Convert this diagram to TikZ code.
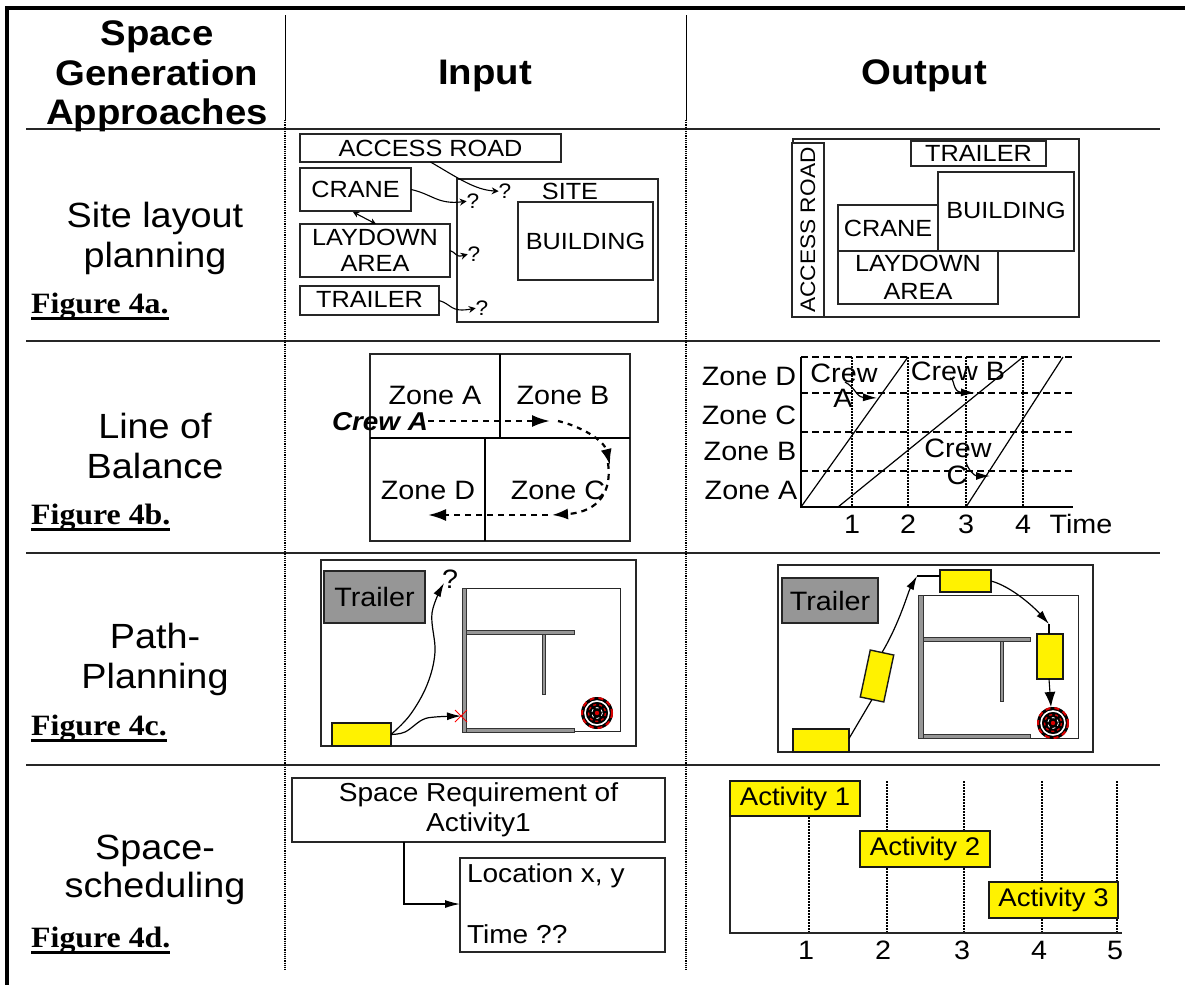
\documentclass[tikz,border=0pt]{standalone}
\usepackage{fontspec}
\setmainfont[FakeStretch=1.08]{Liberation Sans}
\newfontfamily\figfont[FakeStretch=1.08]{Liberation Serif}
\usetikzlibrary{arrows.meta}
\definecolor{trailergray}{RGB}{150,150,150}
\newcommand{\fsz}[2]{\fontsize{#1}{#2}\selectfont}
% text label: [opts]{name}{x}{y of cap centre (last line)}{size}{text}
\newcommand{\lab}[6][]{\node[inner sep=0pt,outer sep=0pt,anchor=base,align=center,font=\fsz{#5}{40},#1] (#2) at (#3,{#4+.358*#5}) {#6};}
% box: [opts]{name}{x1}{y1}{x2}{y2}{text}
\newcommand{\bx}[7][]{\node[boxn,minimum width={(#5-#3)*1pt},minimum height={(#6-#4)*1pt},#1] (#2) at ({(#3+#5)/2},{(#4+#6)/2}) {#7};}
\newcommand{\figlabel}[4]{\node[inner sep=0pt,anchor=base west,font=\figfont\bfseries\fsz{29.5}{32}] (#1) at (#2,#3) {\setbox0\hbox{#4}\rlap{\rule[-7pt]{\wd0}{3pt}}\box0};}
\tikzset{
  boxn/.style={draw=black!85,line width=1.4pt,fill=white,inner sep=0pt,outer sep=0pt,align=center,font=\fsz{23.4}{26}},
  ybox/.style={boxn,fill=yellow,draw=black!90},
  graybox/.style={boxn,fill=trailergray,font=\fsz{26.6}{30}},
  rule line/.style={draw=black!85,line width=1.6pt},
  col solid/.style={draw=black,line width=1pt},
  col dot/.style={draw=black,line width=1.2pt,dash pattern=on 1.2pt off 1pt},
  grid dash/.style={draw=black,line width=1.1pt,dash pattern=on 7pt off 4pt},
  grid dot/.style={draw=black,line width=1.1pt,dash pattern=on 2pt off 1pt},
  line a/.style={draw=black,line width=1.2pt},
  arr/.style={draw=black,line width=1.1pt,-{Stealth[length=7pt,width=7pt]}},
  midarr/.style={draw=black,line width=1.2pt,-{Latex[length=14pt,width=8pt]}},
  bigarr/.style={draw=black,line width=2.4pt,dash pattern=on 6pt off 5pt,-{Latex[length=18pt,width=12pt]}},
  wall/.style={fill=trailergray,draw=black!80,line width=.7pt},
}
\newcommand{\targetmark}[2]{%
  \fill[black] (#1,#2) circle (16);
  \draw[red!85!black,line width=2pt,dash pattern=on 5pt off 4pt] (#1,#2) circle (15);
  \draw[white,line width=1.6pt] (#1,#2) circle (12);
  \draw[red!85!black,line width=1.4pt,dash pattern=on 3pt off 3pt] (#1,#2) circle (8.5);
  \draw[white,line width=.8pt,dash pattern=on 3pt off 3pt] (#1,#2) circle (5.5);
  \fill[red!85!black] (#1,#2) circle (2.2);
}
\begin{document}
\begin{tikzpicture}[x=1pt,y=-1pt]
\useasboundingbox (0,0) rectangle (1185,985);
\fill[white] (0,0) rectangle (1185,985);
% ---- frame and table rules
\fill[black] (5,6) rectangle (1185,10);
\fill[black] (5,6) rectangle (9,985);
\draw[rule line] (26,129) -- (1160,129);
\draw[rule line] (26,341) -- (1160,341);
\draw[rule line] (26,553) -- (1160,553);
\draw[rule line] (26,765) -- (1160,765);
\draw[col solid] (285,15) -- (285,120);
\draw[col dot] (285,120) -- (285,970);
\draw[col solid] (686,15) -- (686,120);
\draw[col dot] (686,120) -- (686,970);
% ---- headers
\lab[font=\bfseries\fsz{35.5}{39.5}]{hspace}{157}{112}{35.5}{Space\\Generation\\Approaches}
\lab[font=\bfseries\fsz{35.5}{40}]{hinput}{485}{72}{35.5}{Input}
\lab[font=\bfseries\fsz{35.5}{40}]{houtput}{924}{72}{35.5}{Output}
% ---- left column
\lab[font=\fsz{35}{40}]{lsite}{155}{255}{35}{Site layout\\planning}
\lab[font=\fsz{35}{40}]{lline}{155}{466}{35}{Line of\\Balance}
\lab[font=\fsz{35}{40}]{lpath}{155}{676}{35}{Path-\\Planning}
\lab[font=\fsz{35}{38}]{lsched}{155}{885}{35}{Space-\\scheduling}
\figlabel{figa}{31}{313}{Figure 4a.}
\figlabel{figb}{31}{524}{Figure 4b.}
\figlabel{figc}{31}{735}{Figure 4c.}
\figlabel{figd}{31}{947}{Figure 4d.}
% ---- site layout input
\bx{road}{300}{134}{561}{162}{ACCESS ROAD}
\bx{crane}{300}{168}{411}{211}{CRANE}
\bx{lay}{300}{224}{450}{277}{LAYDOWN\\AREA}
\bx{trailer}{300}{286}{439}{315}{\raisebox{2pt}{TRAILER}}
\bx{site}{457}{179}{658}{322}{}
\bx{bldg}{518}{202}{653}{280}{BUILDING}
\lab{sitelabel}{570}{191}{23.4}{SITE}
\lab{qa}{505}{191}{21}{?}
\lab{qb}{473}{201}{21}{?}
\lab{qc}{474}{254}{21}{?}
\lab{qd}{482}{308}{21}{?}
\draw[arr] (road.south) .. controls (458,178) and (475,190) .. (qa.west);
\draw[arr] (crane.east) .. controls (432,194) and (438,205) .. (qb.west);
\draw[{Stealth[length=6pt,width=6pt]}-{Stealth[length=6pt,width=6pt]},line width=1.1pt] (353,212) -- (376,224);
\draw[arr] (lay.east) .. controls (456,252) and (455,258) .. (qc.west);
\draw[arr] (trailer.east) .. controls (452,304) and (450,313) .. (qd.west);
% ---- site layout output
\bx{osite}{793}{139}{1079}{317}{}
\bx[rotate=90,minimum width=174pt,minimum height=32pt,font=\fsz{21}{26}]{oroad}{808}{230}{808}{230}{ACCESS ROAD}
\bx{otrailer}{911}{141}{1046}{166}{TRAILER}
\bx{ocrane}{838}{205}{938}{251}{CRANE}
\bx{obldg}{938}{172}{1074}{251}{\raisebox{3pt}{BUILDING}}
\bx[font=\fsz{23.4}{28}]{olay}{838}{251}{998}{304}{LAYDOWN\\AREA}
% ---- line of balance input
\bx{zonebox}{370}{354}{630}{541}{}
\draw[line a] (370,438) -- (630,438);
\draw[line a] (500,354) -- (500,438);
\draw[line a] (485,438) -- (485,541);
\lab{zia}{435}{395}{26.6}{Zone A}
\lab{zib}{563}{395}{26.6}{Zone B}
\lab{zid}{428}{490}{26.6}{Zone D}
\lab{zic}{558}{490}{26.6}{Zone C}
\lab[font=\bfseries\itshape\fsz{25.8}{30},anchor=base west]{crewa}{332}{421}{25.8}{Crew A}
\coordinate (cm1) at (550,421);
\coordinate (cm2) at (558,421);
\coordinate (cm3) at (610,465);
\coordinate (cm4) at (608,463);
\coordinate (cm5) at (552,515);
\coordinate (cm6) at (428,515);
\draw[bigarr] (crewa.east |- cm1) -- (cm1);
\draw[draw=black,line width=2.2pt,dash pattern=on 5pt off 5pt,-{Latex[length=16pt,width=11pt]}] (cm2) .. controls (580,426) and (604,440) .. (cm3);
\draw[draw=black,line width=2.2pt,dash pattern=on 6pt off 5pt,-{Latex[length=16pt,width=11pt]}] (cm4) .. controls (612,490) and (600,512) .. (cm5);
\draw[bigarr] (548,515) -- (cm6);
% ---- line of balance output
\foreach \yy in {357,393,432,471}{\draw[grid dash] (801,\yy) -- (1073,\yy);}
\foreach \xx in {852,908,966,1023}{\draw[grid dot] (\xx,357) -- (\xx,507);}
\draw[line a] (801,357) -- (801,507) -- (1073,507);
\draw[line a] (801,507) -- (908,357);
\draw[line a] (838,507) -- (1023,357);
\draw[line a] (966,507) -- (1063,357);
\lab{zod}{749}{376}{26.6}{Zone D}
\lab{zoc}{749}{415}{26.6}{Zone C}
\lab{zob}{750}{451}{26.6}{Zone B}
\lab{zoa}{751}{490}{26.6}{Zone A}
\lab{tick1}{852}{524}{26.6}{1}
\lab{tick2}{908}{524}{26.6}{2}
\lab{tick3}{966}{524}{26.6}{3}
\lab{tick4}{1023}{524}{26.6}{4}
\lab{ticktime}{1081}{524}{26.6}{Time}
\lab{crewal}{844}{373}{26.6}{Crew}
\lab{crewa2}{843}{398}{26.6}{A}
\lab{crewbl}{958}{371}{26.6}{Crew B}
\lab{crewcl}{958}{448}{26.6}{Crew}
\lab{crewc2}{957}{475}{26.6}{C}
\coordinate (ca1) at (845,382);
\coordinate (ca2) at (877,398);
\coordinate (cb1) at (950,378);
\coordinate (cb2) at (975,393);
\coordinate (cc1) at (966,462);
\coordinate (cc2) at (990,476);
\draw[midarr] (ca1) .. controls (856,388) and (856,397) .. (ca2);
\draw[midarr] (cb1) .. controls (955,378) and (952,392) .. (cb2);
\draw[midarr] (cc1) .. controls (968,470) and (975,476) .. (cc2);
% ---- path planning input
\bx{pfield}{321}{560}{636}{746}{}
\bx[graybox]{ptrailer}{324}{571}{425}{623}{Trailer}
\bx[draw=black!85,line width=1pt]{pbldg}{462}{588}{620}{731}{}
\draw[wall] (462,588) rectangle (466,732);
\draw[wall] (466,630) rectangle (574,634);
\draw[wall] (542,634) rectangle (545,694);
\draw[wall] (466,728) rectangle (574,732);
\targetmark{597}{713}
\bx[ybox]{pcar}{332}{723}{391}{746}{}
\lab[font=\fsz{26.6}{30}]{pq}{450}{579}{26.6}{?}
\coordinate (px) at (461,716);
\draw[red,line width=1pt] (455,710) -- (467,722) (467,710) -- (455,722);
\draw[midarr] plot[smooth,tension=.6] coordinates {(pcar.east) (410,715) (427,685) (435,652) (432,613) (444,583)};
\draw[midarr] plot[smooth,tension=.6] coordinates {(pcar.east) (405,732) (422,720) (435,717) (px)};
% ---- path planning output
\bx{qfield}{778}{565}{1093}{752}{}
\bx[graybox]{qtrailer}{782}{578}{878}{623}{Trailer}
\bx[line width=1pt]{qbldg}{918}{595}{1078}{738}{}
\draw[wall] (918,595) rectangle (923,738);
\draw[wall] (923,637) rectangle (1030,641);
\draw[wall] (1000,641) rectangle (1003,701);
\draw[wall] (923,734) rectangle (1030,738);
\targetmark{1053}{723}
\bx[ybox]{cara}{793}{729}{849}{752}{}
\node[ybox,minimum width=24pt,minimum height=48pt,rotate=-12] (carb) at (877,676) {};
\bx[ybox]{carc}{940}{570}{991}{592}{}
\bx[ybox]{card}{1037}{634}{1063}{679}{}
\coordinate (qb1) at (917,576);
\coordinate (qb2) at (1049,624);
\coordinate (qb3) at (1051,707);
\draw[line a] (cara.east) ++(0,-2) -- (carb.south);
\draw[midarr] (carb.north) .. controls (900,622) and (908,592) .. (qb1);
\draw[line a] (qb1) -- (carc.west |- qb1);
\draw[midarr] (carc.east) .. controls (1010,586) and (1032,605) .. (qb2);
\draw[line a] (qb2) -- (card.north -| qb2);
\draw[draw=black,line width=1.1pt,-{Latex[length=15pt,width=11pt]}] (card.south) ++(-1,0) -- (qb3);
% ---- space scheduling input
\bx[font=\fsz{26}{30}]{req}{292}{778}{665}{842}{Space Requirement of\\Activity1}
\bx{reqout}{460}{858}{665}{952}{}
\lab[font=\fsz{26}{30},anchor=base west]{loc}{467}{873}{26}{Location x, y}
\lab[font=\fsz{26}{30},anchor=base west]{timeq}{467}{934}{26}{Time ??}
\coordinate (reqb) at (404,904);
\draw[line a,-{Latex[length=15pt,width=8pt]}] (req.south -| reqb) -- (reqb) -- (reqout.west |- reqb);
% ---- space scheduling output
\foreach \xx in {809,887,964,1042,1117}{\draw[grid dot] (\xx,781) -- (\xx,933);}
\draw[line width=1.5pt,draw=black!85] (730,781) -- (730,933) -- (1122,933);
\bx[ybox,font=\fsz{25.5}{30}]{act1}{730}{781}{860}{816}{\raisebox{-2pt}{Activity 1}}
\bx[ybox,font=\fsz{25.5}{30}]{act2}{860}{831}{990}{867}{Activity 2}
\bx[ybox,font=\fsz{25.5}{30}]{act3}{989}{882}{1118}{918}{Activity 3}
\lab{s1}{806}{950}{26.6}{1}
\lab{s2}{883}{950}{26.6}{2}
\lab{s3}{962}{950}{26.6}{3}
\lab{s4}{1039}{950}{26.6}{4}
\lab{s5}{1115}{950}{26.6}{5}
\end{tikzpicture}
\end{document}
